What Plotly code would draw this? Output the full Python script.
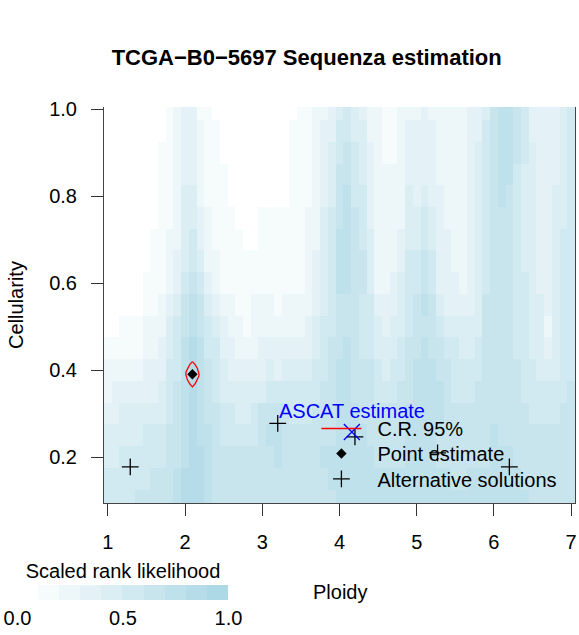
import numpy as np
import plotly.graph_objects as go

# ---------------- data ----------------
ploidy = [round(1.0 + 0.1 * i, 1) for i in range(61)]          # 1.0 .. 7.0
cellularity = [round(1.00 - 0.05 * i, 2) for i in range(19)]   # 1.00 .. 0.10

# scaled rank likelihood level (0..9) per ploidy column, top (1.00) -> bottom (0.10)
col_levels = [
    "0000000000012234455",  # 1.0
    "0000000000012334455",  # 1.1
    "0000000000112344555",  # 1.2
    "0000000000112344555",  # 1.3
    "0000000000112344556",  # 1.4
    "0000000011223345556",  # 1.5
    "0000001111223345566",  # 1.6
    "0011111112233445566",  # 1.7
    "1111112223445556666",  # 1.8
    "2222222334555666677",  # 1.9
    "3333444456677777788",  # 2.0
    "3333445567788888888",  # 2.1
    "1222233456677777888",  # 2.2
    "1111122234556667777",  # 2.3
    "0111111223455566666",  # 2.4
    "0001111112334455666",  # 2.5
    "0000011112233455666",  # 2.6
    "0000001111223445666",  # 2.7
    "0000000111123445666",  # 2.8
    "0000000112223455666",  # 2.9
    "0000011112233466666",  # 3.0
    "0000011112234567666",  # 3.1
    "0000011111233567766",  # 3.2
    "0000011112234566666",  # 3.3
    "0111111112234556666",  # 3.4
    "1111111112234556666",  # 3.5
    "1111122222334556666",  # 3.6
    "2222222333445566666",  # 3.7
    "2333344444555666766",  # 3.8
    "3344455555566666776",  # 3.9
    "4556667776667777777",  # 4.0
    "5566777776677777777",  # 4.1
    "4455566666666677777",  # 4.2
    "3444555665556667777",  # 4.3
    "2233334445556666777",  # 4.4
    "2222222223445566677",  # 4.5
    "1112222223344566677",  # 4.6
    "1112222233445566677",  # 4.7
    "2222223344455666677",  # 4.8
    "2333444555566677777",  # 4.9
    "2333344556667777777",  # 5.0
    "3333455667677777777",  # 5.1
    "2333344556667777777",  # 5.2
    "2222333334566776677",  # 5.3
    "2222223333456666677",  # 5.4
    "2222222233455566667",  # 5.5
    "2222222223445566667",  # 5.6
    "3333333333445566677",  # 5.7
    "3344444444455666677",  # 5.8
    "4555555556666666677",  # 5.9
    "6666666666666667777",  # 6.0
    "7777766666666666777",  # 6.1
    "7777666666666666777",  # 6.2
    "6665555555556666677",  # 6.3
    "5554444455555566667",  # 6.4
    "3344444444445556666",  # 6.5
    "3333333334444556666",  # 6.6
    "3333333333234556666",  # 6.7
    "3333444444444556666",  # 6.8
    "4444445555555566666",  # 6.9
    "5555555555555666666",  # 7.0
]

# 95% credibility region contour around the point estimate
cr95_ploidy = [2.095, 2.13, 2.16, 2.178, 2.181, 2.178, 2.16, 2.13, 2.095,
               2.06, 2.03, 2.012, 2.009, 2.012, 2.03, 2.06, 2.095]
cr95_cellularity = [0.420, 0.413, 0.404, 0.396, 0.391, 0.386, 0.378, 0.369, 0.362,
                    0.369, 0.378, 0.386, 0.391, 0.396, 0.404, 0.413, 0.420]

point_ploidy = [2.095]
point_cellularity = [0.391]

alt_ploidy = [1.29, 3.20, 4.20, 5.27, 6.20]
alt_cellularity = [0.178, 0.278, 0.247, 0.210, 0.178]

ascat_ploidy = [4.16]
ascat_cellularity = [0.258]

colorbar_ticks = [0.0, 0.5, 1.0]
colorbar_ticktext = ["0.0", "0.5", "1.0"]

# ---------------- build ----------------
assert len(col_levels) == len(ploidy)
lev = np.array([[int(ch) for ch in s] for s in col_levels]).T   # rows = cellularity
z = (lev + 0.5) / 10.0

white = np.array([255, 255, 255])
lightblue = np.array([173, 216, 230])
colorscale = []
for k in range(10):
    c = white + (lightblue - white) * k / 9.0
    col = "rgb(%d,%d,%d)" % tuple(np.round(c).astype(int))
    colorscale.append([k / 10.0, col])
    colorscale.append([(k + 1) / 10.0, col])

FONT = "Liberation Sans, Arial, Helvetica, sans-serif"
W, H = 579, 635
NB = "\u00a0\u00a0"

fig = go.Figure()

fig.add_trace(go.Heatmap(
    x=ploidy, y=cellularity, z=z,
    colorscale=colorscale, zmin=0, zmax=1,
    showlegend=False,
    colorbar=dict(
        orientation="h",
        xref="container", yref="container",
        x=21.5 / W, xanchor="left",
        y=1 - 563 / H, yanchor="top",
        lenmode="pixels", len=210.5,
        thicknessmode="pixels", thickness=15,
        xpad=0, ypad=0, outlinewidth=0,
        ticks="", tickvals=colorbar_ticks, ticktext=colorbar_ticktext,
        tickfont=dict(size=20, family=FONT, color="black"),
        title=dict(text="Scaled rank likelihood", side="top",
                   font=dict(size=20, family=FONT, color="black")),
    ),
))

fig.add_trace(go.Scatter(
    x=cr95_ploidy, y=cr95_cellularity, mode="lines",
    line=dict(color="red", width=1.3), name=NB + "C.R. 95%", legend="legend",
))
fig.add_trace(go.Scatter(
    x=point_ploidy, y=point_cellularity, mode="markers",
    marker=dict(symbol="diamond", size=8, color="black"),
    name=NB + "Point estimate", legend="legend2",
))
fig.add_trace(go.Scatter(
    x=alt_ploidy, y=alt_cellularity, mode="markers",
    marker=dict(symbol="cross-thin", size=12, color="black",
                line=dict(color="black", width=1.3)),
    name=NB + "Alternative solutions", legend="legend3",
))
fig.add_trace(go.Scatter(
    x=ascat_ploidy, y=ascat_cellularity, mode="markers",
    marker=dict(symbol="x-thin", size=16, color="blue",
                line=dict(color="blue", width=1.3)),
    showlegend=False, name="ASCAT estimate",
))

fig.add_annotation(
    x=ascat_ploidy[0], y=ascat_cellularity[0], text="ASCAT estimate",
    showarrow=False, yshift=21, font=dict(size=20, family=FONT, color="blue"),
)
# x-axis title
fig.add_annotation(
    x=0.5, xref="paper", y=0, yref="paper", yanchor="middle",
    yshift=-89, text="Ploidy", showarrow=False,
    font=dict(size=20, family=FONT, color="black"),
)

leg_common = dict(x=0.451, xanchor="left", yanchor="middle",
                  bgcolor="rgba(0,0,0,0)", borderwidth=0,
                  font=dict(size=20, family=FONT, color="black"),
                  itemwidth=40)

fig.update_layout(
    width=W, height=H,
    margin=dict(l=104.4, r=4, t=107, b=132, pad=0, autoexpand=False),
    paper_bgcolor="white", plot_bgcolor="white",
    font=dict(family=FONT, size=20, color="black"),
    title=dict(text="TCGA\u2212B0\u22125697 Sequenza estimation",
               x=306.7 / W, xref="container", xanchor="center",
               y=1 - 57 / H, yref="container", yanchor="middle",
               font=dict(size=22, family=FONT, color="black", weight="bold")),
    legend=dict(y=0.1881, **leg_common),
    legend2=dict(y=0.125, **leg_common),
    legend3=dict(y=0.0611, **leg_common),
    xaxis=dict(range=[0.95, 7.05], tickvals=[1, 2, 3, 4, 5, 6, 7],
               ticks="outside", ticklen=12, tickcolor="#333", tickwidth=1,
               showline=True, linecolor="#444", linewidth=1, mirror=False,
               showgrid=False, zeroline=False, ticklabelstandoff=9,
               tickfont=dict(size=20)),
    yaxis=dict(range=[0.095, 1.005], tickvals=[0.2, 0.4, 0.6, 0.8, 1.0],
               ticktext=["0.2", "0.4", "0.6", "0.8", "1.0"],
               ticks="outside", ticklen=12, tickcolor="#333", tickwidth=1,
               showline=True, linecolor="#444", linewidth=1, mirror=True,
               showgrid=False, zeroline=False, ticklabelstandoff=10,
               tickfont=dict(size=20),
               title=dict(text="Cellularity", standoff=20, font=dict(size=20))),
)

fig.write_html("out.html")
